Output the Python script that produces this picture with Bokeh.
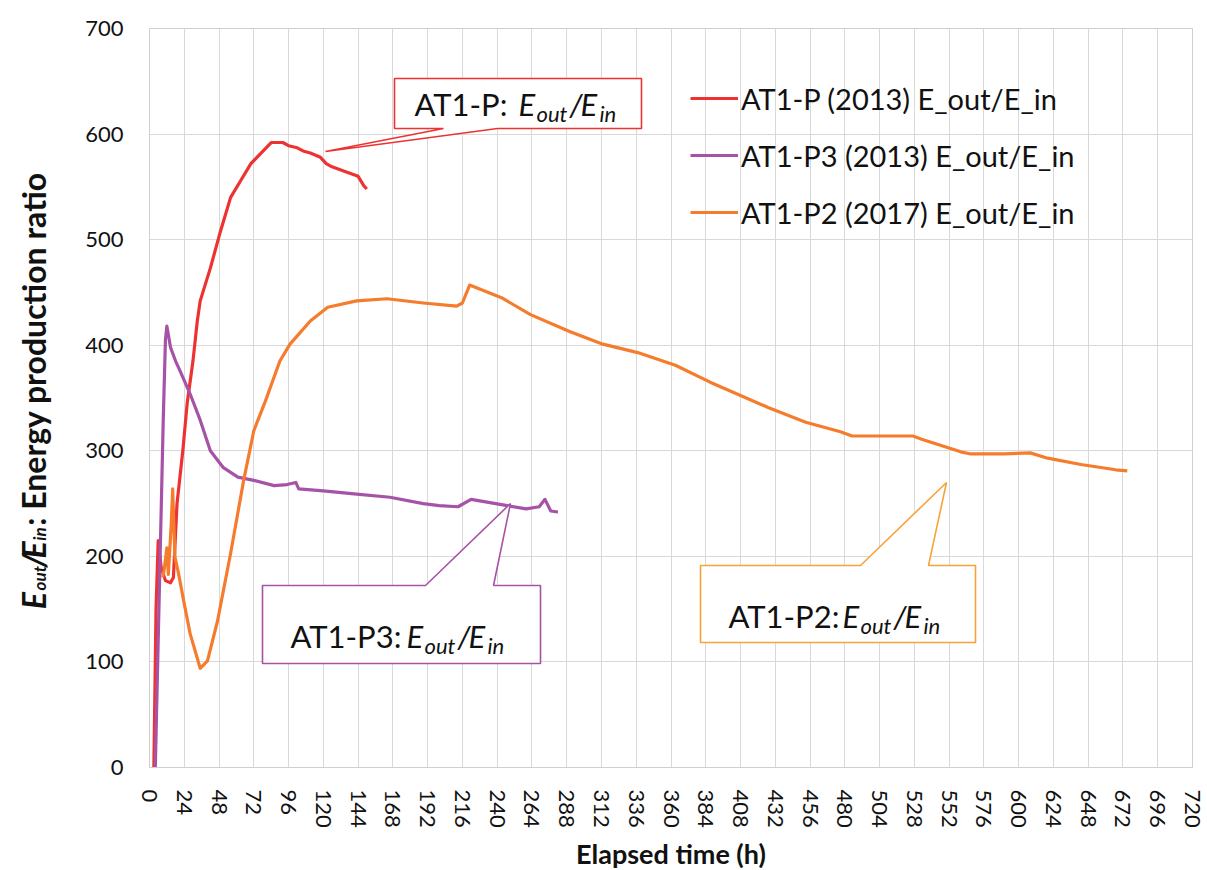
import math
from bokeh.plotting import figure
from bokeh.layouts import row
from bokeh.models import Range1d, FixedTicker, Legend, LegendItem, Label, PolyAnnotation
from bokeh.embed import file_html
from bokeh.resources import INLINE

# ---------------- data ----------------
p_hours = [3, 4.5, 6, 8, 11, 14.5, 16.5, 19, 23, 26, 30, 33, 35, 42, 49, 56, 63, 70, 77, 84,
           92, 96, 102, 106, 111, 118, 122, 126, 134, 144, 148, 150]
p_ratio = [0, 150, 215, 190, 177, 175, 180, 250, 300, 345, 385, 423, 442, 473, 508, 540, 556,
           572, 582, 592, 592, 589, 587, 584, 582, 578, 572, 569, 565, 560, 551, 548]

p3_hours = [4, 7, 9.5, 11, 12, 14.5, 18, 21, 28, 35, 42, 51, 61, 72, 86, 95, 101, 103, 120,
            143, 166, 189, 200, 213, 222, 247, 260, 269, 273, 277, 282]
p3_ratio = [0, 180, 330, 405, 418, 398, 385, 376, 354, 329, 300, 284, 275, 272, 267, 268, 270,
            264, 262, 259, 256, 250, 248, 247, 254, 248, 245, 247, 254, 243, 242]

p2_hours = [9, 10, 12, 13, 15, 16, 17.5, 20, 24, 28, 35, 40, 47, 56, 65, 72, 80, 90, 97, 111,
            123, 143, 164, 189, 212, 216, 221, 243, 263, 290, 313, 337, 363, 387, 427, 453,
            477, 485, 527, 533, 560, 567, 590, 608, 620, 643, 667, 675]
p2_ratio = [180, 186, 208, 183, 230, 264, 200, 184, 155, 127, 94, 101, 139, 203, 272, 319, 347,
            385, 401, 423, 436, 442, 444, 440, 437, 440, 457, 445, 429, 413, 401, 393, 381, 365,
            341, 327, 318, 314, 314, 311, 299, 297, 297, 298, 293, 287, 282, 281]

series_names = ["AT1-P (2013) E_out/E_in", "AT1-P3 (2013) E_out/E_in", "AT1-P2 (2017) E_out/E_in"]
x_ticks = list(range(0, 721, 24))
y_ticks = list(range(0, 701, 100))
x_title = "Elapsed time (h)"

RED = "#ee3232"
PURPLE = "#a653a7"
ORANGE = "#f57c2c"
ORANGE_BOX = "#f7a23a"
FONT = "Lato"

TITLE_W = 70
TOTAL_H = 868
TOP = 28
FRAME_H = 739
BOTTOM = TOTAL_H - TOP - FRAME_H

# ---------------- main figure ----------------
p = figure(frame_width=1043, frame_height=FRAME_H,
           min_border_left=149 - TITLE_W, min_border_right=15, min_border_top=TOP,
           min_border_bottom=BOTTOM,
           x_range=Range1d(0, 720), y_range=Range1d(0, 700),
           output_backend="svg", toolbar_location=None,
           background_fill_color="white", border_fill_color="white")
p.outline_line_color = "#cfcfcf"
p.outline_line_width = 1

for ax in (p.xaxis[0], p.yaxis[0]):
    ax.major_tick_line_color = None
    ax.minor_tick_line_color = None
    ax.major_tick_out = 0
    ax.major_tick_in = 0
    ax.axis_line_color = "#cfcfcf"
    ax.major_label_text_font = FONT
    ax.major_label_text_font_size = "22px"
    ax.major_label_text_color = "#111111"

p.xaxis.ticker = FixedTicker(ticks=x_ticks)
p.yaxis.ticker = FixedTicker(ticks=y_ticks)
p.xaxis.major_label_orientation = "vertical"
p.xaxis.major_label_standoff = 22
p.yaxis.major_label_standoff = 26
p.xaxis.axis_label = x_title
p.xaxis.axis_label_text_font = FONT
p.xaxis.axis_label_text_font_size = "27px"
p.xaxis.axis_label_text_font_style = "bold"
p.xaxis.axis_label_text_color = "#111111"
p.xaxis.axis_label_standoff = 6
p.xgrid.ticker = FixedTicker(ticks=x_ticks)
p.ygrid.ticker = FixedTicker(ticks=y_ticks)
p.xgrid.grid_line_color = "#d9d9d9"
p.ygrid.grid_line_color = "#d9d9d9"

r1 = p.line(p_hours, p_ratio, line_color=RED, line_width=3.2, line_join="round")
r3 = p.line(p3_hours, p3_ratio, line_color=PURPLE, line_width=3.2, line_join="round")
r2 = p.line(p2_hours, p2_ratio, line_color=ORANGE, line_width=3.2, line_join="round")

legend = Legend(items=[LegendItem(label=series_names[0], renderers=[r1]),
                       LegendItem(label=series_names[1], renderers=[r3]),
                       LegendItem(label=series_names[2], renderers=[r2])],
                location=(541, 535), orientation="vertical",
                label_text_font=FONT, label_text_font_size="29px", label_text_color="#111111",
                glyph_width=48, glyph_height=40, label_height=40, spacing=17,
                padding=0, margin=0, label_standoff=3,
                border_line_color=None, background_fill_alpha=0)
p.add_layout(legend, "center")

# ---------------- callouts (page pixel -> data) ----------------
def hx(px):
    return (px - 149) * 720.0 / 1043.0

def vy(py):
    return (767 - py) * 700.0 / 739.0

def callout(l, t, r, b, b1, b2, tip, side, color):
    if side == "bottom":
        pts = [(l, t), (r, t), (r, b), (b2, b), tip, (b1, b), (l, b)]
    else:
        pts = [(l, t), (b1, t), tip, (b2, t), (r, t), (r, b), (l, b)]
    p.add_layout(PolyAnnotation(xs=[hx(x) for x, _ in pts], ys=[vy(y) for _, y in pts],
                                fill_color="white", fill_alpha=1.0,
                                line_color=color, line_alpha=1.0, line_width=1.6))

def txt(fig, x, y, s, size, style="normal", angle=0.0, align="left"):
    fig.add_layout(Label(x=x, y=y, text=s, text_font=FONT,
                         text_font_size=f"{size}px", text_font_style=style,
                         text_color="#111111", angle=angle, text_align=align,
                         text_baseline="alphabetic"))

def box_text(x0, base, prefix, e_x):
    txt(p, hx(x0), vy(base), prefix, 31)
    txt(p, hx(e_x), vy(base), "E", 31, "italic")
    txt(p, hx(e_x + 18), vy(base + 10), "out", 22, "italic")
    txt(p, hx(e_x + 51), vy(base), "/", 31, "italic")
    txt(p, hx(e_x + 62), vy(base), "E", 31, "italic")
    txt(p, hx(e_x + 81), vy(base + 10), "in", 22, "italic")

callout(394, 78, 641, 128, 443, 497, (325, 151), "bottom", RED)
callout(262, 585, 540, 663, 425, 493, (510, 503), "top", PURPLE)
callout(700, 565, 975, 642, 860, 928, (946, 482), "top", ORANGE_BOX)

box_text(414, 103, "AT1-P:", 518)
box_text(290, 635, "AT1-P3:", 406)
box_text(728, 615, "AT1-P2:", 842)

# ---------------- y-axis title panel (frame aligned with the main frame) ----------------
t = figure(width=TITLE_W, height=TOTAL_H,
           x_range=Range1d(0, TITLE_W), y_range=Range1d(TOTAL_H - 767, TOTAL_H - 28),
           x_axis_type=None, y_axis_type=None,
           min_border_left=0, min_border_right=0, min_border_top=TOP, min_border_bottom=BOTTOM,
           output_backend="svg", toolbar_location=None,
           background_fill_color="white", border_fill_color="white")
t.outline_line_color = None
t.xgrid.visible = False
t.ygrid.visible = False

A = math.pi / 2
Y = lambda py: TOTAL_H - py
txt(t, 33, Y(612), "E", 32, "bold italic", A)
txt(t, 39, Y(593), "out", 17, "bold italic", A)
txt(t, 33, Y(570), "/", 32, "bold italic", A)
txt(t, 33, Y(561), "E", 32, "bold italic", A)
txt(t, 39, Y(543), "in", 17, "bold italic", A)
txt(t, 33, Y(528), ": Energy production ratio", 32, "bold", A)

layout = row(t, p)
open("out.html", "w").write(file_html(layout, INLINE))
